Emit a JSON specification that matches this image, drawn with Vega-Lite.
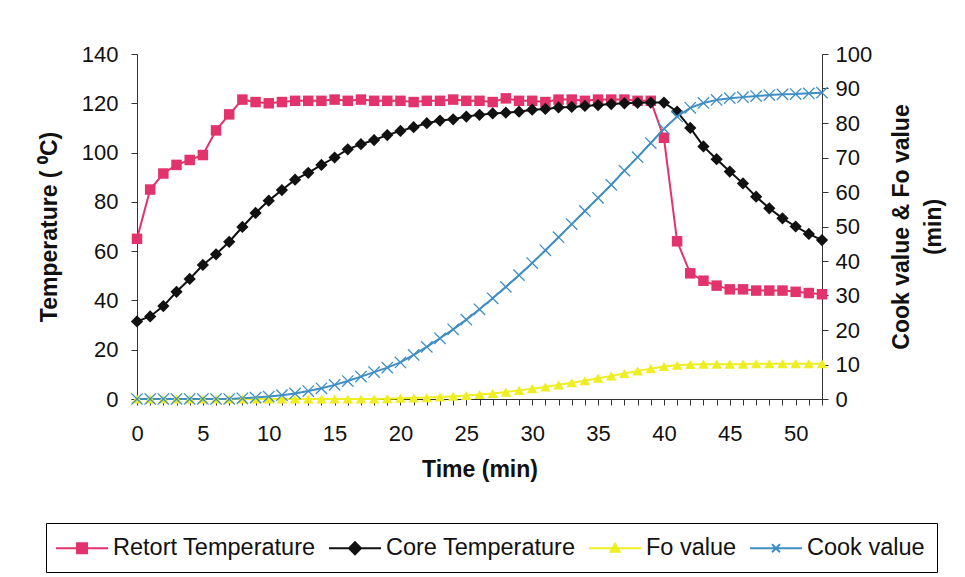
{
  "$schema": "https://vega.github.io/schema/vega-lite/v6.json",
  "width": 685,
  "height": 345,
  "autosize": {"type": "none"},
  "padding": {"left": 137, "top": 54, "right": 143, "bottom": 178},
  "background": "#ffffff",
  "config": {
    "view": {"stroke": null},
    "font": "Liberation Sans",
    "axis": {"grid": false, "domainColor": "#333333", "tickColor": "#333333", "labelColor": "#111111", "titleColor": "#111111", "labelFont": "Liberation Sans", "titleFont": "Liberation Sans", "labelFontSize": 22, "titleFontSize": 23, "titleFontWeight": "bold"}
  },
  "data": {
    "values": [
      {"t": 0, "Retort Temperature": 65, "Core Temperature": 31.5, "Fo value": 0, "Cook value": 0},
      {"t": 1, "Retort Temperature": 85, "Core Temperature": 33.5, "Fo value": 0, "Cook value": 0},
      {"t": 2, "Retort Temperature": 91.5, "Core Temperature": 37.7, "Fo value": 0, "Cook value": 0},
      {"t": 3, "Retort Temperature": 95, "Core Temperature": 43.5, "Fo value": 0, "Cook value": 0},
      {"t": 4, "Retort Temperature": 97, "Core Temperature": 48.7, "Fo value": 0, "Cook value": 0},
      {"t": 5, "Retort Temperature": 99, "Core Temperature": 54.4, "Fo value": 0, "Cook value": 0},
      {"t": 6, "Retort Temperature": 109, "Core Temperature": 58.7, "Fo value": 0, "Cook value": 0},
      {"t": 7, "Retort Temperature": 115.5, "Core Temperature": 63.8, "Fo value": 0, "Cook value": 0},
      {"t": 8, "Retort Temperature": 121.5, "Core Temperature": 69.8, "Fo value": 0, "Cook value": 0.2},
      {"t": 9, "Retort Temperature": 120.5, "Core Temperature": 75.5, "Fo value": 0, "Cook value": 0.4},
      {"t": 10, "Retort Temperature": 120, "Core Temperature": 80.5, "Fo value": 0, "Cook value": 0.7},
      {"t": 11, "Retort Temperature": 120.5, "Core Temperature": 84.8, "Fo value": 0, "Cook value": 1.1},
      {"t": 12, "Retort Temperature": 121, "Core Temperature": 89, "Fo value": 0, "Cook value": 1.6},
      {"t": 13, "Retort Temperature": 121, "Core Temperature": 91.8, "Fo value": 0, "Cook value": 2.3},
      {"t": 14, "Retort Temperature": 121, "Core Temperature": 95, "Fo value": 0, "Cook value": 3.1},
      {"t": 15, "Retort Temperature": 121.5, "Core Temperature": 98, "Fo value": 0, "Cook value": 4.1},
      {"t": 16, "Retort Temperature": 121, "Core Temperature": 101.3, "Fo value": 0, "Cook value": 5.2},
      {"t": 17, "Retort Temperature": 121.5, "Core Temperature": 103.4, "Fo value": 0, "Cook value": 6.5},
      {"t": 18, "Retort Temperature": 121, "Core Temperature": 105.1, "Fo value": 0, "Cook value": 7.8},
      {"t": 19, "Retort Temperature": 121, "Core Temperature": 107.1, "Fo value": 0.1, "Cook value": 9.1},
      {"t": 20, "Retort Temperature": 121, "Core Temperature": 108.8, "Fo value": 0.2, "Cook value": 10.6},
      {"t": 21, "Retort Temperature": 120.5, "Core Temperature": 110.3, "Fo value": 0.3, "Cook value": 12.8},
      {"t": 22, "Retort Temperature": 121, "Core Temperature": 111.9, "Fo value": 0.4, "Cook value": 15.1},
      {"t": 23, "Retort Temperature": 121, "Core Temperature": 113, "Fo value": 0.6, "Cook value": 17.6},
      {"t": 24, "Retort Temperature": 121.5, "Core Temperature": 113.5, "Fo value": 0.8, "Cook value": 20.2},
      {"t": 25, "Retort Temperature": 121, "Core Temperature": 114.6, "Fo value": 1.0, "Cook value": 23},
      {"t": 26, "Retort Temperature": 121, "Core Temperature": 115.3, "Fo value": 1.3, "Cook value": 26},
      {"t": 27, "Retort Temperature": 120.5, "Core Temperature": 115.9, "Fo value": 1.6, "Cook value": 29.2},
      {"t": 28, "Retort Temperature": 122, "Core Temperature": 116.2, "Fo value": 2.0, "Cook value": 32.5},
      {"t": 29, "Retort Temperature": 121, "Core Temperature": 116.6, "Fo value": 2.5, "Cook value": 35.9},
      {"t": 30, "Retort Temperature": 121, "Core Temperature": 117.4, "Fo value": 3.0, "Cook value": 39.4},
      {"t": 31, "Retort Temperature": 120.5, "Core Temperature": 117.7, "Fo value": 3.5, "Cook value": 43.1},
      {"t": 32, "Retort Temperature": 121.5, "Core Temperature": 118.3, "Fo value": 4.1, "Cook value": 46.9},
      {"t": 33, "Retort Temperature": 121.5, "Core Temperature": 118.5, "Fo value": 4.7, "Cook value": 50.7},
      {"t": 34, "Retort Temperature": 121, "Core Temperature": 118.9, "Fo value": 5.3, "Cook value": 54.5},
      {"t": 35, "Retort Temperature": 121.5, "Core Temperature": 119.3, "Fo value": 6.0, "Cook value": 58.3},
      {"t": 36, "Retort Temperature": 121.5, "Core Temperature": 119.7, "Fo value": 6.7, "Cook value": 62.1},
      {"t": 37, "Retort Temperature": 121.5, "Core Temperature": 120, "Fo value": 7.4, "Cook value": 66.2},
      {"t": 38, "Retort Temperature": 121, "Core Temperature": 120.2, "Fo value": 8.1, "Cook value": 70.1},
      {"t": 39, "Retort Temperature": 121, "Core Temperature": 120.3, "Fo value": 8.8, "Cook value": 74.2},
      {"t": 40, "Retort Temperature": 106, "Core Temperature": 120.3, "Fo value": 9.4, "Cook value": 78.3},
      {"t": 41, "Retort Temperature": 64, "Core Temperature": 116.6, "Fo value": 9.8, "Cook value": 81.9},
      {"t": 42, "Retort Temperature": 51, "Core Temperature": 110, "Fo value": 10.0, "Cook value": 84.4},
      {"t": 43, "Retort Temperature": 48, "Core Temperature": 102.5, "Fo value": 10.1, "Cook value": 85.8},
      {"t": 44, "Retort Temperature": 46, "Core Temperature": 97.3, "Fo value": 10.1, "Cook value": 86.7},
      {"t": 45, "Retort Temperature": 44.5, "Core Temperature": 92.3, "Fo value": 10.1, "Cook value": 87.2},
      {"t": 46, "Retort Temperature": 44.5, "Core Temperature": 87.5, "Fo value": 10.1, "Cook value": 87.5},
      {"t": 47, "Retort Temperature": 44, "Core Temperature": 82.1, "Fo value": 10.2, "Cook value": 87.8},
      {"t": 48, "Retort Temperature": 44, "Core Temperature": 77.4, "Fo value": 10.2, "Cook value": 88.1},
      {"t": 49, "Retort Temperature": 44, "Core Temperature": 73.3, "Fo value": 10.2, "Cook value": 88.3},
      {"t": 50, "Retort Temperature": 43.5, "Core Temperature": 70, "Fo value": 10.2, "Cook value": 88.4},
      {"t": 51, "Retort Temperature": 43, "Core Temperature": 67, "Fo value": 10.2, "Cook value": 88.6},
      {"t": 52, "Retort Temperature": 42.5, "Core Temperature": 64.5, "Fo value": 10.2, "Cook value": 88.8}
    ]
  },
  "encoding": {
    "x": {
      "field": "t", "type": "quantitative",
      "scale": {"domain": [0, 52], "nice": false, "zero": false},
      "axis": {
        "title": "Time (min)",
        "values": [0,1,2,3,4,5,6,7,8,9,10,11,12,13,14,15,16,17,18,19,20,21,22,23,24,25,26,27,28,29,30,31,32,33,34,35,36,37,38,39,40,41,42,43,44,45,46,47,48,49,50,51,52],
        "labelExpr": "datum.value % 5 === 0 ? datum.label : ''",
        "labelOverlap": false, "labelFlush": false,
        "tickSize": 6, "labelPadding": 18, "titlePadding": 14
      }
    }
  },
  "layer": [
    {
      "transform": [{"fold": ["Retort Temperature", "Core Temperature"], "as": ["key", "value"]}],
      "encoding": {
        "y": {
          "field": "value", "type": "quantitative",
          "scale": {"domain": [0, 140], "nice": false},
          "axis": {
            "orient": "left", "title": "Temperature ( ⁰C)",
            "values": [0, 20, 40, 60, 80, 100, 120, 140],
            "tickSize": 6, "labelPadding": 13, "titlePadding": 20
          }
        },
        "color": {
          "field": "key", "type": "nominal",
          "scale": {
            "domain": ["Retort Temperature", "Core Temperature", "Fo value", "Cook value"],
            "range": ["#E2336C", "#111111", "#EEEE22", "#3F8EC4"]
          }
        }
      },
      "layer": [
        {
          "mark": {"type": "line", "strokeWidth": 2},
          "encoding": {
            "color": {
              "field": "key", "type": "nominal",
              "legend": {
                "orient": "none", "legendX": -91, "legendY": 469,
                "direction": "horizontal", "columns": 4, "title": null,
                "labelFontSize": 23.5, "labelColor": "#111111", "labelFont": "Liberation Sans",
                "labelLimit": 0, "labelOffset": 18, "symbolOffset": 11, "columnPadding": 8,
                "padding": 12, "strokeColor": "#000000", "fillColor": "#ffffff",
                "symbolSize": 576, "symbolStrokeWidth": 2,
                "symbolType": {"expr": "datum.value === 'Retort Temperature' ? 'M-2.17,0H2.17M-0.42,-0.42H0.42V0.42H-0.42Z' : datum.value === 'Core Temperature' ? 'M-2.17,0H2.17M0,-0.5L0.5,0L0,0.5L-0.5,0Z' : datum.value === 'Fo value' ? 'M-2.17,0H2.17M0,-0.38L0.38,0.3H-0.38Z' : 'M-2.17,0H2.17M-0.33,-0.33L0.33,0.33M-0.33,0.33L0.33,-0.33'"},
                "symbolFillColor": {"expr": "scale('color', datum.value)"}
              }
            }
          }
        },
        {
          "transform": [{"filter": {"field": "key", "equal": "Retort Temperature"}}],
          "mark": {"type": "point", "shape": "square", "filled": true, "size": 110, "opacity": 1},
          "encoding": {"color": {"field": "key", "type": "nominal", "legend": null}}
        },
        {
          "transform": [{"filter": {"field": "key", "equal": "Core Temperature"}}],
          "mark": {"type": "point", "shape": "diamond", "filled": true, "size": 150, "opacity": 1},
          "encoding": {"color": {"field": "key", "type": "nominal", "legend": null}}
        }
      ]
    },
    {
      "transform": [{"fold": ["Fo value", "Cook value"], "as": ["key", "value"]}],
      "encoding": {
        "y": {
          "field": "value", "type": "quantitative",
          "scale": {"domain": [0, 100], "nice": false},
          "axis": {
            "orient": "right", "title": ["Cook value & Fo value", "(min)"],
            "values": [0, 10, 20, 30, 40, 50, 60, 70, 80, 90, 100],
            "tickSize": 6, "labelPadding": 7, "titlePadding": 10, "titleAngle": -90,
            "titleLineHeight": 32
          }
        },
        "color": {"field": "key", "type": "nominal", "legend": null}
      },
      "layer": [
        {"mark": {"type": "line", "strokeWidth": 2}},
        {
          "transform": [{"filter": {"field": "key", "equal": "Fo value"}}],
          "mark": {"type": "point", "shape": "triangle-up", "filled": true, "size": 110, "opacity": 1}
        },
        {
          "transform": [{"filter": {"field": "key", "equal": "Cook value"}}],
          "mark": {"type": "point", "shape": "M-0.85,-1L0,-0.15L0.85,-1L1,-0.85L0.15,0L1,0.85L0.85,1L0,0.15L-0.85,1L-1,0.85L-0.15,0L-1,-0.85Z", "filled": true, "size": 150, "opacity": 1}
        }
      ]
    }
  ],
  "resolve": {"scale": {"y": "independent"}}
}
